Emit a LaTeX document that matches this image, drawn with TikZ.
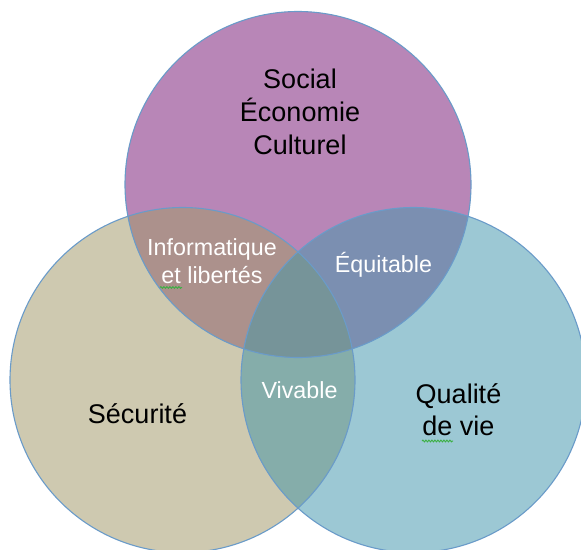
\documentclass[tikz,border=0pt]{standalone}
\usepackage{fontspec}
\setmainfont{Liberation Sans}
\usetikzlibrary{decorations.pathmorphing}
\definecolor{topc}{HTML}{B886B7}
\definecolor{leftc}{HTML}{CEC9B0}
\definecolor{rightc}{HTML}{9CC8D4}
\definecolor{tlc}{HTML}{AC918C}
\definecolor{trc}{HTML}{7B8FB1}
\definecolor{lrc}{HTML}{85ADAA}
\definecolor{allc}{HTML}{769499}
\definecolor{edgec}{HTML}{6A9BC9}
\definecolor{spellc}{HTML}{3CB043}
\tikzset{
  bigtxt/.style={anchor=base, inner sep=0pt, text=black, font=\fontsize{27}{33}\selectfont},
  smalltxt/.style={anchor=base, inner sep=0pt, text=white, font=\fontsize{23.3}{28}\selectfont},
  rim/.style={draw=edgec, line width=1.1pt},
  spell/.style={draw=spellc, line width=0.9pt, decorate, decoration={snake, amplitude=0.9pt, segment length=3pt}}
}
\begin{document}
\begin{tikzpicture}[x=1pt,y=-1pt]
\useasboundingbox (0,0) rectangle (581,549);
\clip (0,0) rectangle (581,549);
\fill[white] (0,0) rectangle (581,549);
\coordinate (cT) at (298,184.5);
\coordinate (cL) at (182.5,380);
\coordinate (cR) at (413.5,380);
\fill[topc] (cT) circle[radius=173pt];
\fill[leftc] (cL) circle[radius=172.5pt];
\fill[rightc] (cR) circle[radius=172.5pt];
\begin{scope}
  \clip (cT) circle[radius=173pt];
  \fill[tlc] (cL) circle[radius=172.5pt];
  \fill[trc] (cR) circle[radius=172.5pt];
\end{scope}
\begin{scope}
  \clip (cL) circle[radius=172.5pt];
  \fill[lrc] (cR) circle[radius=172.5pt];
  \clip (cR) circle[radius=172.5pt];
  \fill[allc] (cT) circle[radius=173pt];
\end{scope}
\draw[rim] (cT) circle[radius=173pt];
\draw[rim] (cL) circle[radius=172.5pt];
\draw[rim] (cR) circle[radius=172.5pt];
% top labels
\node[bigtxt] (social) at (300,88.3) {Social};
\node[bigtxt] (econ) at (300,121.7) {Économie};
\node[bigtxt] (cult) at (300,154.3) {Culturel};
\node[bigtxt] (secu) at (137.5,423) {Sécurité};
\node[bigtxt] (qual) at (458.5,403) {Qualité};
\node[bigtxt] (devie) at (458.5,435) {de vie};
% intersection labels
\node[smalltxt] (info) at (212,255) {Informatique};
\node[smalltxt] (libe) at (212,283) {et libertés};
\node[smalltxt] (equi) at (383.5,272) {Équitable};
\node[smalltxt] (viva) at (299.5,398) {Vivable};
% spell-check underlines
\coordinate (s1a) at (160,287.5);
\coordinate (s1b) at (182,287.5);
\coordinate (s2a) at (422,441);
\coordinate (s2b) at (453,441);
\draw[spell] (s1a) -- (s1b);
\draw[spell] (s2a) -- (s2b);
\end{tikzpicture}
\end{document}
